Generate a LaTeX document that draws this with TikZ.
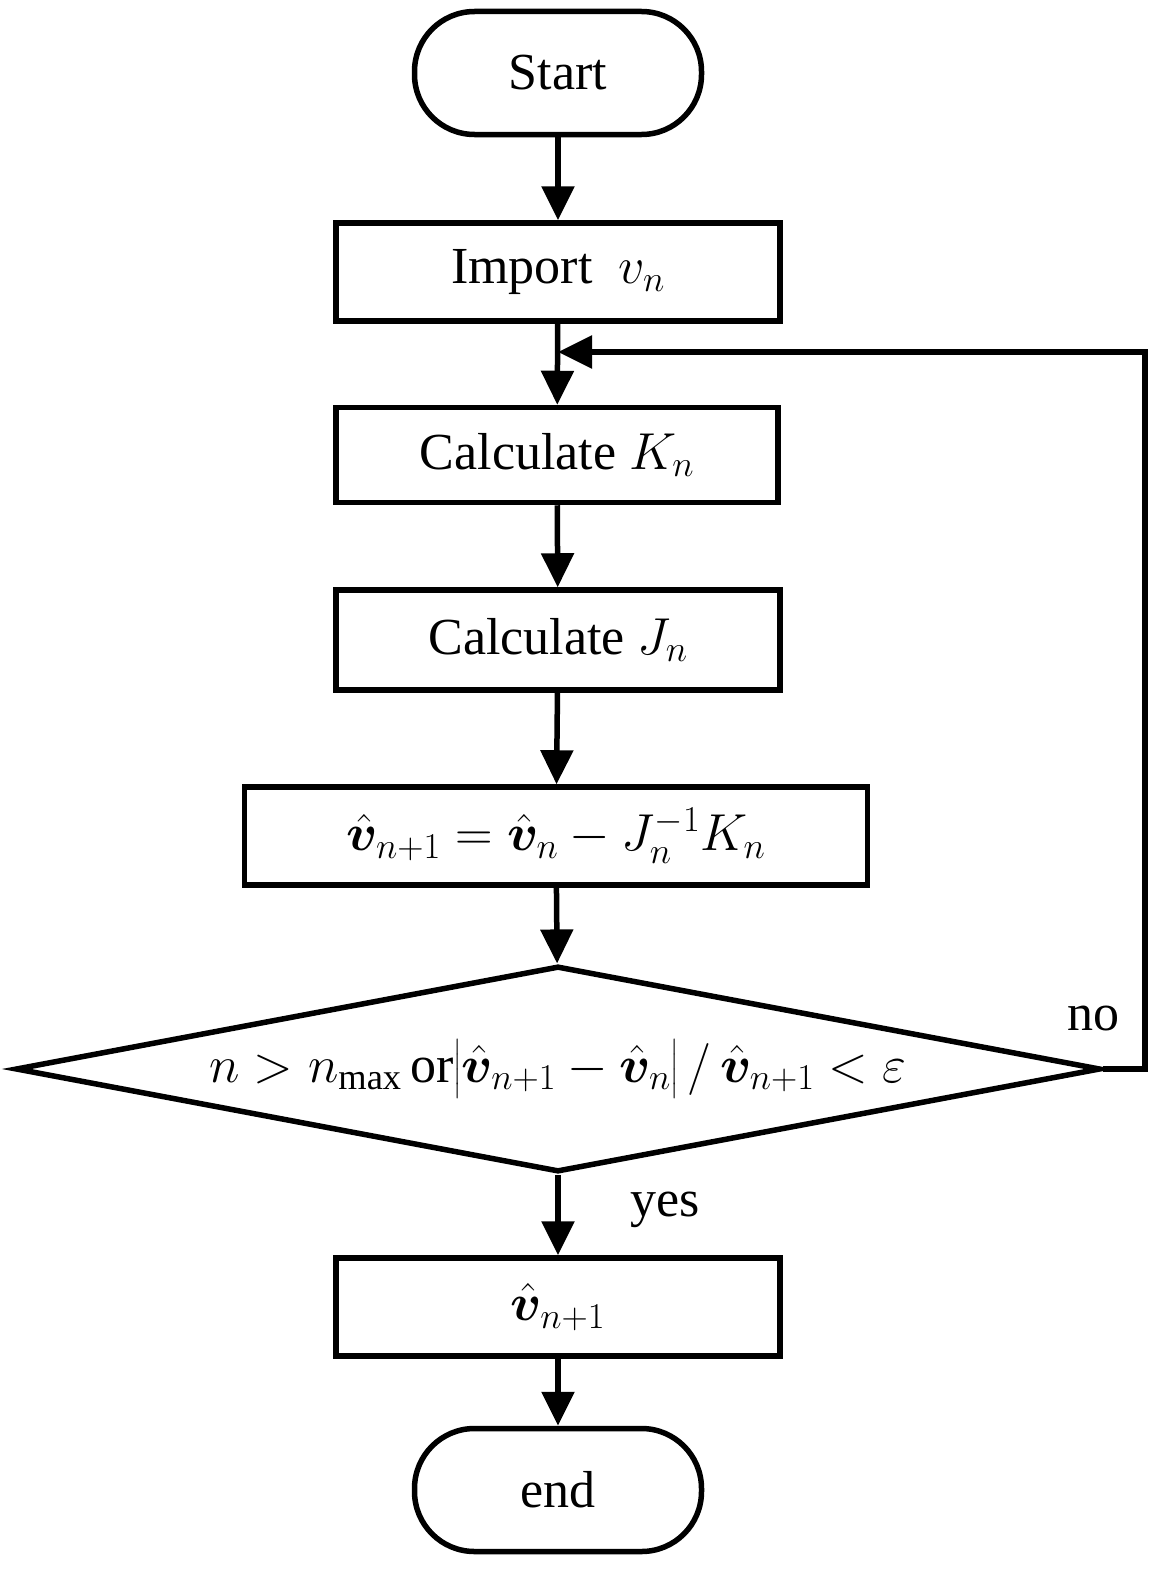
\documentclass[tikz,border=0pt]{standalone}
\usepackage{fix-cm}
\usepackage{amsmath,bm}
\usepackage{fontspec}
\setmainfont{Liberation Serif}
\usetikzlibrary{shapes.geometric,arrows.meta}
\begin{document}
\begin{tikzpicture}[x=1pt,y=-1pt,
  every node/.style={font=\fontsize{52}{58}\selectfont},
  box/.style={draw,line width=5.5pt,minimum height=98pt,inner sep=0pt},
  term/.style={draw,line width=5.5pt,rounded corners=60pt,minimum width=287pt,minimum height=123pt},
  arr/.style={line width=5.5pt,-{Triangle[length=34pt,width=32pt]}}]
\node[term] (s) at (558,73) {Start};
\node[box,minimum width=444pt] (imp) at (558,272) {Import\ \ $v_n$};
\node[box,minimum width=442pt,minimum height=95pt] (k) at (557,455) {Calculate $K_n$};
\node[box,minimum width=444pt,minimum height=100pt] (j) at (558,640) {Calculate $J_n$};
\node[box,minimum width=623pt] (u) at (556,836) {$\hat{\bm v}_{n+1}=\hat{\bm v}_n-J_n^{-1}K_n$};
\node[draw,line width=5.5pt,diamond,aspect=5.2,minimum width=1085pt,minimum height=206pt,inner sep=0pt] (d) at (558,1069)
  {$n>n_{\mathrm{max}}\,\mathrm{or}\bigl|\hat{\bm v}_{n+1}-\hat{\bm v}_n\bigr|\,/\,\hat{\bm v}_{n+1}<\varepsilon$};
\node[box,minimum width=444pt] (r) at (558,1307) {$\hat{\bm v}_{n+1}$};
\node[term] (e) at (558,1490) {end};
\coordinate (c1) at (1145,1069);
\coordinate (c2) at (1145,352);
\coordinate (c3) at (558,352);
\draw[arr] (s) -- (imp);
\draw[arr] (imp) -- (k);
\draw[arr] (k) -- (j);
\draw[arr] (j) -- (u);
\draw[arr] (u) -- (d);
\draw[arr] (d) -- (r);
\draw[arr] (r) -- (e);
\draw[arr] (d.east) -- (c1) -- (c2) -- (c3);
\node (no) at (1093,1018) {no};
\node (yes) at (665,1210) {yes};
\pgfresetboundingbox
\path[use as bounding box] (0,0) rectangle (1174,1587);
\end{tikzpicture}
\end{document}
